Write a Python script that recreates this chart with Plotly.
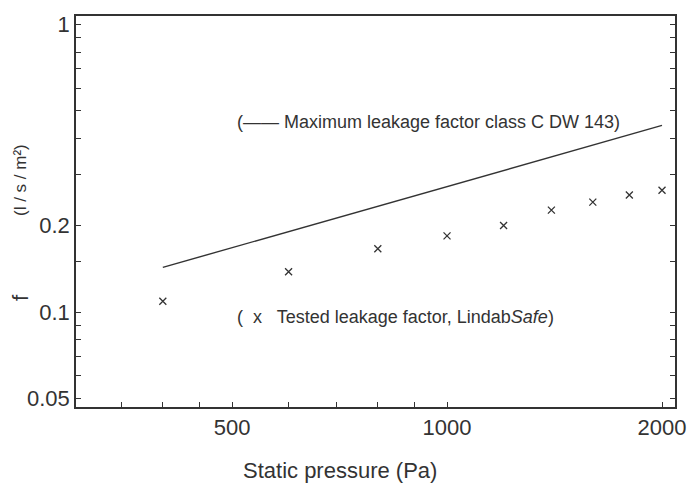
import plotly.graph_objects as go

# Data
pressure_tested = [400, 600, 800, 1000, 1200, 1400, 1600, 1800, 2000]
leak_tested = [0.109, 0.138, 0.166, 0.184, 0.200, 0.226, 0.241, 0.255, 0.265]

pressure_max = [400, 700, 1000, 1500, 2000]
leak_max = [0.143, 0.212, 0.272, 0.363, 0.445]

x_tickvals = [350, 400, 450, 500, 600, 700, 800, 900, 1000, 2000]
x_ticklabels = ["", "", "", "500", "", "", "", "", "1000", "2000"]
y_tickvals = [0.05, 0.06, 0.07, 0.08, 0.09, 0.1, 0.15, 0.2, 0.3, 0.4, 0.5, 0.6, 0.7, 0.8, 0.9, 1]
y_ticklabels = ["0.05", "", "", "", "", "0.1", "", "0.2", "", "", "", "", "", "", "", "1"]

ink = "#333333"
font_family = "Liberation Sans, Arial, Helvetica, sans-serif"

fig = go.Figure()
fig.add_trace(go.Scatter(
    x=pressure_max, y=leak_max, mode="lines",
    line=dict(color=ink, width=1.4), showlegend=False, hoverinfo="skip"))
fig.add_trace(go.Scatter(
    x=pressure_tested, y=leak_tested, mode="markers",
    marker=dict(symbol="x-thin", size=7, line=dict(color=ink, width=1.3)),
    showlegend=False))

fig.update_xaxes(
    type="log", range=[2.4805, 3.3192], automargin=False,
    tickvals=x_tickvals, ticktext=x_ticklabels,
    ticks="inside", ticklen=5, tickcolor=ink,
    showline=True, linecolor=ink, linewidth=1.5, mirror=True,
    showgrid=False, zeroline=False,
    tickfont=dict(family=font_family, size=22, color=ink))
fig.update_yaxes(
    type="log", range=[-1.3297, 0.0285], automargin=False,
    tickvals=y_tickvals, ticktext=y_ticklabels,
    ticks="inside", ticklen=5, tickcolor=ink,
    showline=True, linecolor=ink, linewidth=1.5, mirror="ticks",
    showgrid=False, zeroline=False,
    tickfont=dict(family=font_family, size=22, color=ink))

ann_font = dict(family=font_family, size=18, color=ink)
fig.add_annotation(
    text="(—— Maximum leakage factor class C DW 143)",
    xref="paper", yref="paper", x=(235 - 76) / 599, y=(407 - 122) / 391,
    xanchor="left", yanchor="middle", showarrow=False, font=ann_font)
fig.add_annotation(
    text="(  x   Tested leakage factor, Lindab<i>Safe</i>)",
    xref="paper", yref="paper", x=(235 - 76) / 599, y=(407 - 317) / 391,
    xanchor="left", yanchor="middle", showarrow=False, font=ann_font)

# Axis titles
fig.add_annotation(
    text="Static pressure (Pa)", xref="paper", yref="paper",
    x=(340 - 76) / 599, y=(407 - 470) / 391, xanchor="center", yanchor="middle",
    showarrow=False, font=dict(family=font_family, size=22, color=ink))
fig.add_annotation(
    text="f", xref="paper", yref="paper",
    x=(20 - 76) / 599, y=(407 - 298) / 391, xanchor="center", yanchor="middle",
    textangle=-90, showarrow=False, font=dict(family=font_family, size=22, color=ink))
fig.add_annotation(
    text="(l / s / m²)", xref="paper", yref="paper",
    x=(20 - 76) / 599, y=(407 - 180) / 391, xanchor="center", yanchor="middle",
    textangle=-90, showarrow=False, font=dict(family=font_family, size=17, color=ink))

fig.update_layout(
    width=688, height=490, autosize=False,
    margin=dict(l=76, r=13, t=16, b=83, autoexpand=False),
    paper_bgcolor="white", plot_bgcolor="white",
    font=dict(family=font_family, color=ink))

fig.write_html("out.html", config={"displayModeBar": False, "responsive": False},
               post_script="document.body.style.margin='0';")
